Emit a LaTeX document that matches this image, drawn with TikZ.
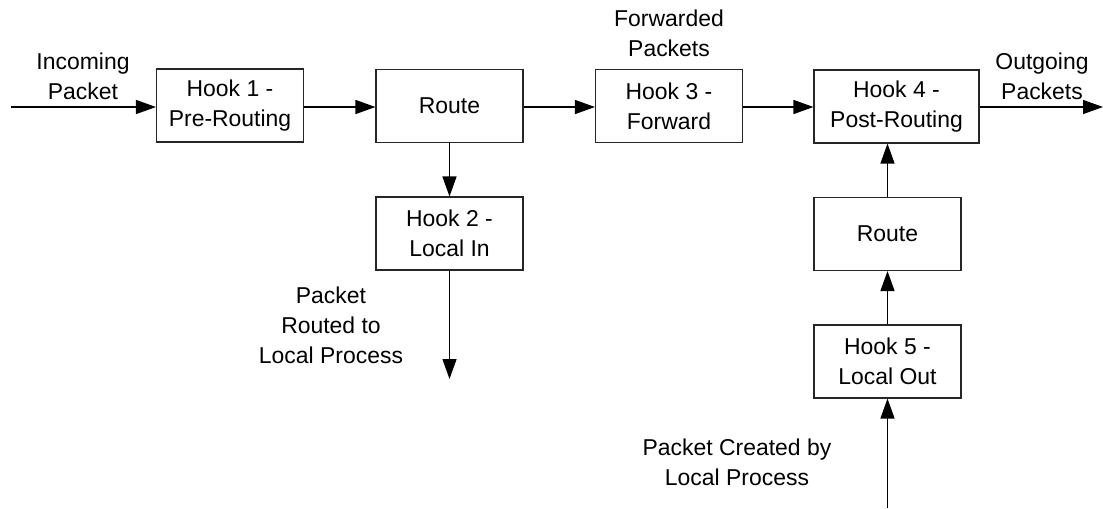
\documentclass[tikz,border=0pt]{standalone}
\usepackage{fontspec}
\setmainfont{Liberation Sans}
\usetikzlibrary{arrows.meta}
\begin{document}
\begin{tikzpicture}[x=0.75pt,y=-0.75pt,
  box/.style={draw=black!85,line width=0.8pt,rectangle,inner sep=0pt,minimum width=110.25pt,minimum height=54.75pt,align=center,font=\fontsize{17.2pt}{22.5pt}\selectfont},
  widebox/.style={box,minimum width=123.75pt},
  lbl/.style={align=center,inner sep=0pt,font=\fontsize{17.2pt}{22.5pt}\selectfont},
  arr/.style={line width=1pt,-{Triangle[length=15pt,width=10.5pt]}}]
\useasboundingbox (0,0) rectangle (1103,508);
\node[box] (h1) at (230,105.5) {Hook 1 -\\Pre-Routing};
\node[box] (r1) at (449.5,106) {Route};
\node[box] (h2) at (449.5,233.5) {Hook 2 -\\Local In};
\node[box] (h3) at (669,106) {Hook 3 -\\Forward};
\node[widebox] (h4) at (896.5,106.5) {Hook 4 -\\Post-Routing};
\node[box] (r2) at (887.5,234) {Route};
\node[box] (h5) at (887.5,361.5) {Hook 5 -\\Local Out};
\coordinate (inA) at (11,107);
\coordinate (outB) at (449.5,379);
\coordinate (outC) at (1103,107);
\coordinate (inD) at (887.5,508);
\node[lbl] (lin) at (83,76) {Incoming\\Packet};
\node[lbl] (lfw) at (669,33) {Forwarded\\Packets};
\node[lbl] (lout) at (1042,76) {Outgoing\\Packets};
\node[lbl] (lloc) at (331,325) {Packet\\Routed to\\Local Process};
\node[lbl] (lcr) at (737,462) {Packet Created by\\Local Process};
\draw[arr] (inA) -- (inA -| h1.west);
\draw[arr] (h1.east |- inA) -- (r1.west |- inA);
\draw[arr] (r1.east |- inA) -- (h3.west |- inA);
\draw[arr] (h3.east |- inA) -- (h4.west |- inA);
\draw[arr] (h4.east |- outC) -- (outC);
\draw[arr] (r1.south) -- (h2.north);
\draw[arr] (h2.south) -- (outB);
\draw[arr] (inD) -- (h5.south);
\draw[arr] (h5.north) -- (r2.south);
\draw[arr] (r2.north) -- (r2.north |- h4.south);
\end{tikzpicture}
\end{document}
